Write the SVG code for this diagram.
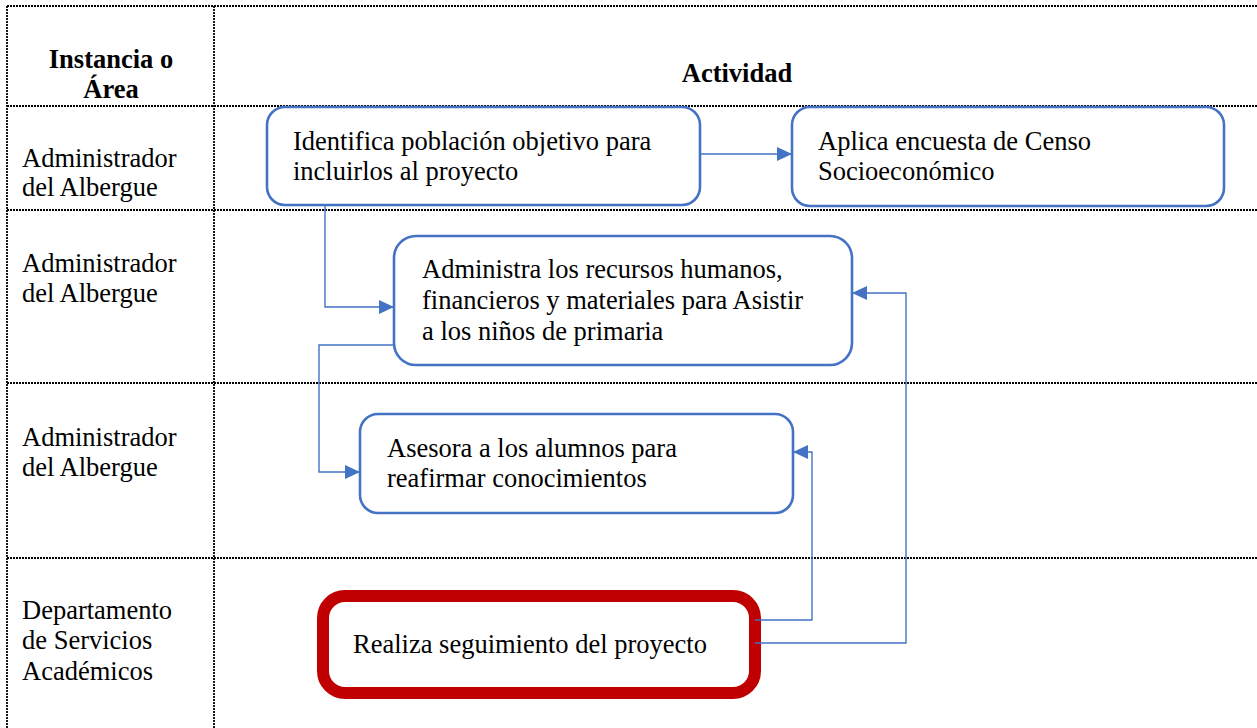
<svg xmlns="http://www.w3.org/2000/svg" width="1257" height="728" viewBox="0 0 1257 728">
<style>
.grid{stroke:#000;stroke-width:1.8;stroke-dasharray:2 1;fill:none}
.t{font-family:"Liberation Serif","Times New Roman",serif;font-size:26.5px;fill:#000}
.b{font-weight:bold}
.box{fill:#fff;stroke:#4472C4;stroke-width:2.6}
.red{fill:#fff;stroke:#C00000;stroke-width:12}
.con{fill:none;stroke:#4472C4;stroke-width:1.4}
</style>
<defs>
<marker id="ah" markerUnits="userSpaceOnUse" markerWidth="16" markerHeight="14" refX="15" refY="7" orient="auto">
<path d="M0,0 L15,7 L0,14 Z" fill="#4472C4"/>
</marker>
</defs>
<rect width="1257" height="728" fill="#fff"/>
<g id="table">
<line class="grid" x1="7" y1="6" x2="1257" y2="6"/>
<line class="grid" x1="7" y1="106" x2="1257" y2="106"/>
<line class="grid" x1="7" y1="210" x2="1257" y2="210"/>
<line class="grid" x1="7" y1="383" x2="1257" y2="383"/>
<line class="grid" x1="7" y1="558" x2="1257" y2="558"/>
<line class="grid" x1="7" y1="6" x2="7" y2="728"/>
<line class="grid" x1="214" y1="6" x2="214" y2="728"/>
<text class="t b" x="111" y="68" text-anchor="middle">Instancia o</text>
<text class="t b" x="111" y="98" text-anchor="middle">Área</text>
<text class="t b" x="737" y="82" text-anchor="middle">Actividad</text>
<text class="t" x="22" y="167">Administrador</text>
<text class="t" x="22" y="196">del Albergue</text>
<text class="t" x="22" y="272">Administrador</text>
<text class="t" x="22" y="302">del Albergue</text>
<text class="t" x="22" y="446">Administrador</text>
<text class="t" x="22" y="476">del Albergue</text>
<text class="t" x="22" y="619">Departamento</text>
<text class="t" x="22" y="649">de Servicios</text>
<text class="t" x="22" y="680">Académicos</text>
</g>
<g id="n1">
<rect class="box" x="267" y="107" width="433" height="98" rx="18"/>
<text class="t" x="293" y="150">Identifica población objetivo para</text>
<text class="t" x="293" y="180">incluirlos al proyecto</text>
</g>
<g id="n2">
<rect class="box" x="792" y="107" width="432" height="99" rx="18"/>
<text class="t" x="818" y="150">Aplica encuesta de Censo</text>
<text class="t" x="818" y="180">Socioeconómico</text>
</g>
<g id="n3">
<rect class="box" x="394" y="236" width="458" height="129" rx="22"/>
<text class="t" x="422" y="278">Administra los recursos humanos,</text>
<text class="t" x="422" y="309">financieros y materiales para Asistir</text>
<text class="t" x="422" y="340">a los niños de primaria</text>
</g>
<g id="n4">
<rect class="box" x="360" y="414" width="433" height="99" rx="18"/>
<text class="t" x="387" y="457">Asesora a los alumnos para</text>
<text class="t" x="387" y="487">reafirmar conocimientos</text>
</g>
<g id="n5">
<rect class="red" x="323" y="596" width="432" height="97" rx="22"/>
<text class="t" x="353" y="653">Realiza seguimiento del proyecto</text>
</g>
<g id="connectors">
<path class="con" d="M700,154 L792,154" marker-end="url(#ah)"/>
<path class="con" d="M325,205 L325,307 L394,307" marker-end="url(#ah)"/>
<path class="con" d="M394,345 L319,345 L319,472 L360,472" marker-end="url(#ah)"/>
<path class="con" d="M755,620 L812,620 L812,452 L793,452" marker-end="url(#ah)"/>
<path class="con" d="M755,643 L906,643 L906,293 L852,293" marker-end="url(#ah)"/>
</g>
</svg>
